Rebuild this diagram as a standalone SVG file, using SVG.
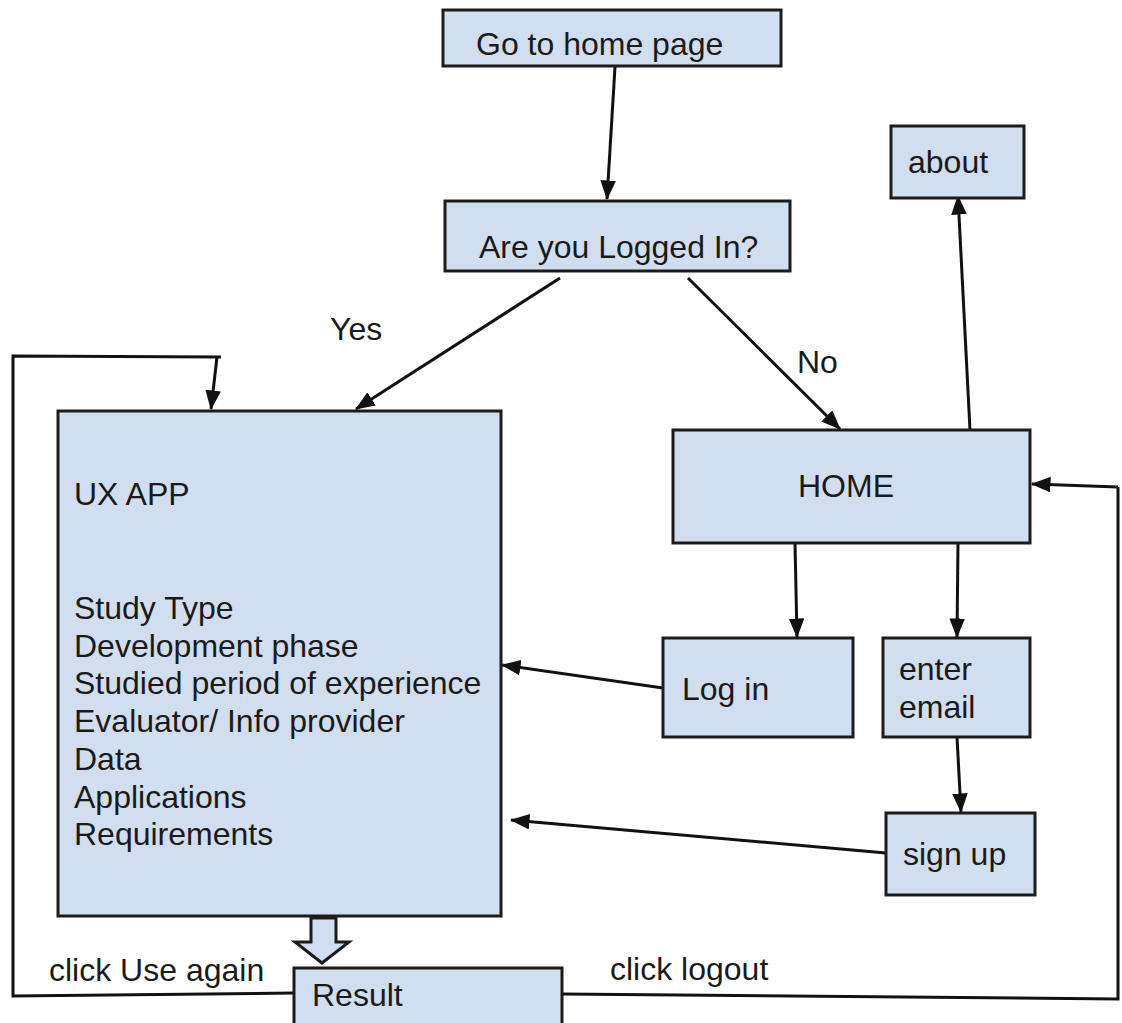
<svg xmlns="http://www.w3.org/2000/svg" width="1122" height="1023" viewBox="0 0 1122 1023">
  <style>
    .box { fill: #d1deef; stroke: #1c1c1c; stroke-width: 3; }
    .lbl { font-family: "Liberation Sans", Arial, sans-serif; font-size: 32px; fill: #1a1a1a; }
    .edge { fill: none; stroke: #111; stroke-width: 3; }
  </style>
  <defs>
    <marker id="arrow" viewBox="0 0 10 8" refX="9.5" refY="4" markerWidth="6.5" markerHeight="5.2" markerUnits="strokeWidth" orient="auto">
      <path d="M0,0 L10,4 L0,8 z" fill="#111"/>
    </marker>
  </defs>
  <rect width="1122" height="1023" fill="#fff"/>

  <g id="connectors">
    <line class="edge" x1="615" y1="67" x2="607" y2="199" marker-end="url(#arrow)"/>
    <line class="edge" x1="560" y1="278" x2="356" y2="409" marker-end="url(#arrow)"/>
    <line class="edge" x1="688" y1="278" x2="840" y2="429" marker-end="url(#arrow)"/>
    <line class="edge" x1="970" y1="430" x2="958" y2="196" marker-end="url(#arrow)"/>
    <line class="edge" x1="795" y1="543" x2="797" y2="637" marker-end="url(#arrow)"/>
    <line class="edge" x1="958" y1="543" x2="957" y2="637" marker-end="url(#arrow)"/>
    <line class="edge" x1="957" y1="737" x2="961" y2="812" marker-end="url(#arrow)"/>
    <line class="edge" x1="663" y1="688" x2="502" y2="665" marker-end="url(#arrow)"/>
    <line class="edge" x1="886" y1="853" x2="511" y2="820" marker-end="url(#arrow)"/>
    <polyline class="edge" points="294,993 13,996 13,356 221,357"/>
    <line class="edge" x1="217" y1="357" x2="211" y2="409" marker-end="url(#arrow)"/>
    <polyline class="edge" points="562,994 1118,999 1118,487"/>
    <line class="edge" x1="1118" y1="487" x2="1032" y2="484" marker-end="url(#arrow)"/>
    <path d="M311,918 L336,918 L336,942 L349,942 L322,963 L295,942 L311,942 z" fill="#d1deef" stroke="#1c1c1c" stroke-width="3" stroke-linejoin="miter"/>
    <text class="lbl" x="330" y="340">Yes</text>
    <text class="lbl" x="797" y="373">No</text>
    <text class="lbl" x="49" y="981">click Use again</text>
    <text class="lbl" x="610" y="980">click logout</text>
  </g>

  <g id="go-home">
    <rect class="box" x="443" y="10" width="338" height="56"/>
    <text class="lbl" x="476" y="55">Go to home page</text>
  </g>
  <g id="logged-in">
    <rect class="box" x="445" y="201" width="345" height="70"/>
    <text class="lbl" x="479" y="258">Are you Logged In?</text>
  </g>
  <g id="about">
    <rect class="box" x="891" y="126" width="133" height="72"/>
    <text class="lbl" x="908" y="173">about</text>
  </g>
  <g id="ux-app">
    <rect class="box" x="58" y="411" width="443" height="505"/>
    <text class="lbl" x="74" y="505">UX APP</text>
    <text class="lbl" x="74" y="619">Study Type</text>
    <text class="lbl" x="74" y="657">Development phase</text>
    <text class="lbl" x="74" y="694">Studied period of experience</text>
    <text class="lbl" x="74" y="732">Evaluator/ Info provider</text>
    <text class="lbl" x="74" y="770">Data</text>
    <text class="lbl" x="74" y="808">Applications</text>
    <text class="lbl" x="74" y="845">Requirements</text>
  </g>
  <g id="home">
    <rect class="box" x="673" y="430" width="357" height="113"/>
    <text class="lbl" x="798" y="497">HOME</text>
  </g>
  <g id="log-in">
    <rect class="box" x="663" y="638" width="190" height="99"/>
    <text class="lbl" x="682" y="700">Log in</text>
  </g>
  <g id="enter-email">
    <rect class="box" x="883" y="638" width="147" height="99"/>
    <text class="lbl" x="899" y="680">enter</text>
    <text class="lbl" x="899" y="718">email</text>
  </g>
  <g id="sign-up">
    <rect class="box" x="886" y="813" width="149" height="82"/>
    <text class="lbl" x="903" y="865">sign up</text>
  </g>
  <g id="result">
    <rect class="box" x="294" y="968" width="268" height="60"/>
    <text class="lbl" x="312" y="1006">Result</text>
  </g>
</svg>
